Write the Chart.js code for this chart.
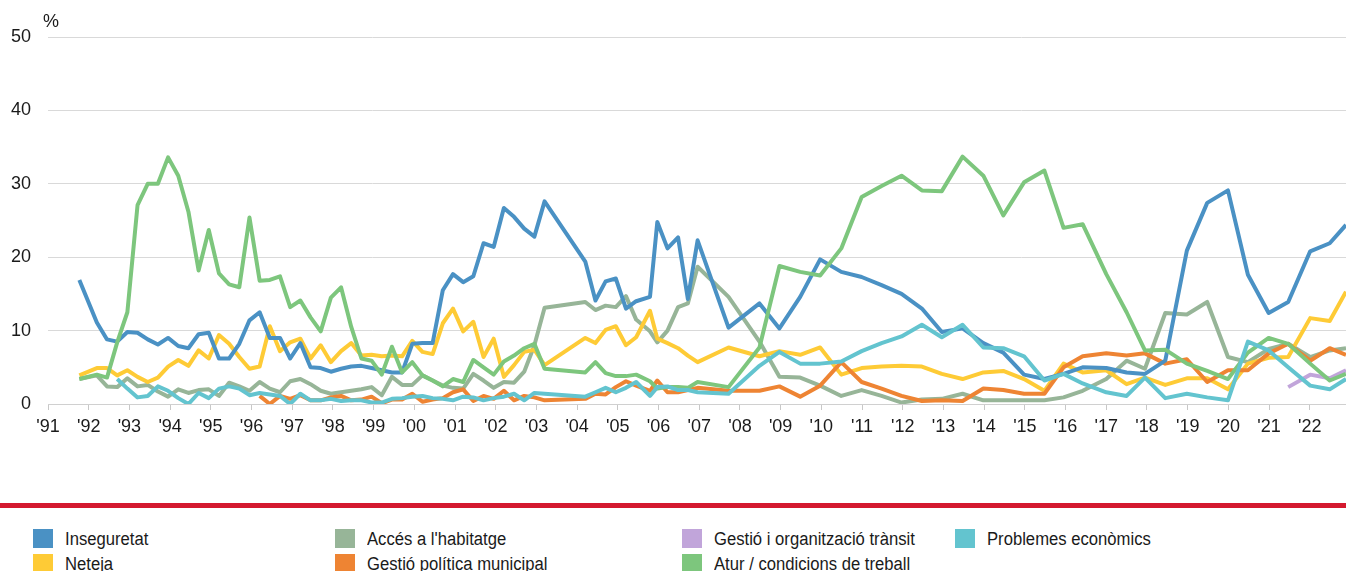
<!DOCTYPE html>
<html>
<head>
<meta charset="utf-8">
<script src="https://cdn.jsdelivr.net/npm/chart.js@4.4.1/dist/chart.umd.min.js"></script>
<style>
  html, body { margin: 0; padding: 0; background: #fff; width: 1346px; height: 571px; overflow: hidden; }
  #wrap { position: relative; width: 1346px; height: 571px; }
  #chart { position: absolute; left: 0; top: 0; }
  #redbar { position: absolute; left: 0; top: 503px; width: 1346px; height: 5px; background: #d4192f; }
  .lg-item { position: absolute; height: 20px; white-space: nowrap; }
  .lg-box { position: absolute; left: 0; top: 0; width: 20px; height: 19px; }
  .lg-text { position: absolute; left: 32px; top: -1px; font-family: "Liberation Sans", Arial, sans-serif; font-size: 18px; color: #1a1a1a; transform: scaleX(0.925); transform-origin: left center; line-height: 22px; }
</style>
</head>
<body>
<div id="wrap">
  <canvas id="chart" width="1346" height="460"></canvas>
  <div id="redbar"></div>
  <div id="legend"></div>
</div>
<script>
// Survey dates (decimal years)
const surveyDates = [
  1991.77, 1992.20, 1992.45, 1992.70, 1992.95, 1993.20, 1993.45, 1993.70, 1993.95,
  1994.20, 1994.45, 1994.70, 1994.95, 1995.20, 1995.45, 1995.70, 1995.95,
  1996.20, 1996.45, 1996.70, 1996.95, 1997.20, 1997.45, 1997.70, 1997.95,
  1998.20, 1998.45, 1998.70, 1998.95, 1999.20, 1999.45, 1999.70, 1999.95,
  2000.20, 2000.45, 2000.70, 2000.95, 2001.20, 2001.45, 2001.70, 2001.95,
  2002.20, 2002.45, 2002.70, 2002.95, 2003.20,
  2004.20, 2004.45, 2004.70, 2004.95, 2005.20, 2005.45, 2005.79, 2005.97,
  2006.22, 2006.48, 2006.72, 2006.96, 2007.72,
  2008.48, 2008.97, 2009.48, 2009.97, 2010.49, 2010.99, 2011.48, 2011.97,
  2012.47, 2012.96, 2013.47, 2013.98, 2014.47, 2014.98, 2015.48, 2015.95,
  2016.42, 2017.00, 2017.50, 2017.95, 2018.45, 2018.98, 2019.48, 2019.99,
  2020.48, 2020.99, 2021.47, 2022.01, 2022.49, 2022.89
];

const seriesNames = [
  "Inseguretat", "Neteja", "Accés a l'habitatge", "Gestió política municipal",
  "Gestió i organització trànsit", "Atur / condicions de treball", "Problemes econòmics"
];

const inseguretat = [
  16.9, 11.1, 8.8, 8.5, 9.8, 9.7, 8.8, 8.1, 9.0,
  7.9, 7.6, 9.5, 9.7, 6.2, 6.2, 8.2, 11.4,
  12.5, 9.0, 9.0, 6.2, 8.3, 5.0, 4.9, 4.4,
  4.8, 5.1, 5.2, 4.9, 4.6, 4.3, 4.3, 8.2,
  8.3, 8.3, 15.5, 17.7, 16.6, 17.4, 21.9, 21.4,
  26.7, 25.5, 23.9, 22.8, 27.6,
  19.4, 14.1, 16.7, 17.1, 13.0, 14.0, 14.6, 24.8,
  21.2, 22.7, 14.3, 22.3, 10.4,
  13.7, 10.3, 14.6, 19.7, 18.0, 17.3, 16.2, 15.0,
  13.0, 9.8, 10.3, 8.3, 7.0, 4.0, 3.4, 4.1,
  5.0, 4.9, 4.3, 4.1, 5.9, 20.9, 27.4, 29.1,
  17.6, 12.4, 13.9, 20.8, 21.9, 24.4
];

const neteja = [
  3.9, 4.9, 4.9, 3.9, 4.6, 3.7, 3.0, 3.6, 5.1,
  6.0, 5.2, 7.3, 6.2, 9.4, 8.2, 6.4, 4.8,
  5.1, 10.6, 7.2, 8.4, 8.9, 6.2, 8.0, 5.7,
  7.2, 8.3, 6.6, 6.7, 6.5, 6.6, 6.5, 8.6,
  7.1, 6.8, 11.0, 13.0, 9.9, 11.2, 6.4, 8.9,
  3.7, 5.3, 7.1, 7.4, 5.3,
  9.0, 8.3, 10.1, 10.6, 8.0, 9.1, 12.7, 8.9,
  8.3, 7.6, 6.6, 5.7, 7.7,
  6.5, 7.2, 6.7, 7.7, 4.0, 4.9, 5.1, 5.2,
  5.1, 4.1, 3.4, 4.3, 4.5, 3.4, 1.8, 5.5,
  4.3, 4.6, 2.7, 3.6, 2.6, 3.5, 3.5, 2.0,
  5.5, 6.3, 6.4, 11.7, 11.3, 15.3
];

const accesHabitatge = [
  3.4, 3.9, 2.4, 2.3, 3.5, 2.4, 2.6, 1.7, 1.0,
  2.0, 1.5, 1.9, 2.0, 1.1, 2.9, 2.4, 1.8,
  3.0, 2.1, 1.6, 3.1, 3.4, 2.7, 1.8, 1.4,
  1.6, 1.8, 2.0, 2.3, 1.2, 3.7, 2.6, 2.6,
  3.9, 3.2, 2.5, 2.2, 2.1, 4.1, 3.2, 2.2,
  3.0, 2.9, 4.4, 8.0, 13.1,
  13.9, 12.8, 13.4, 13.2, 14.7, 11.5, 9.9, 8.4,
  10.0, 13.2, 13.7, 18.7, 14.6,
  8.5, 3.7, 3.6, 2.5, 1.1, 1.9, 1.1, 0.2,
  0.6, 0.7, 1.4, 0.5, 0.5, 0.5, 0.5, 0.9,
  1.8, 3.4, 5.9, 4.8, 12.4, 12.2, 13.9, 6.4,
  5.7, 7.5, 8.2, 6.4, 7.3, 7.6
];

const gestioPolitica = [
  null, null, null, null, null, null, null, null, null,
  null, null, null, null, null, null, null, null,
  1.1, 0.0, 1.1, 0.7, 1.2, 0.5, 0.5, 0.9,
  1.1, 0.5, 0.6, 1.0, 0.1, 0.6, 0.6, 1.4,
  0.3, 0.6, 0.8, 1.6, 2.0, 0.4, 1.1, 0.7,
  1.8, 0.5, 1.1, 0.9, 0.5,
  0.7, 1.4, 1.3, 2.3, 3.1, 2.5, 1.8, 3.2,
  1.6, 1.6, 1.9, 2.2, 1.8,
  1.8, 2.4, 1.0, 2.5, 5.7, 3.0, 2.1, 1.1,
  0.4, 0.5, 0.4, 2.1, 1.9, 1.4, 1.4, 5.0,
  6.5, 6.9, 6.6, 6.9, 5.5, 6.1, 3.0, 4.6,
  4.6, 6.9, 8.2, 5.9, 7.6, 6.7
];

const gestioTransit = [
  null, null, null, null, null, null, null, null, null,
  null, null, null, null, null, null, null, null,
  null, null, null, null, null, null, null, null,
  null, null, null, null, null, null, null, null,
  null, null, null, null, null, null, null, null,
  null, null, null, null, null,
  null, null, null, null, null, null, null, null,
  null, null, null, null, null,
  null, null, null, null, null, null, null, null,
  null, null, null, null, null, null, null, null,
  null, null, null, null, null, null, null, null,
  null, null, 2.3, 4.0, 3.5, 4.6
];

const aturTreball = [
  3.4, 4.0, 3.6, 8.4, 12.5, 27.1, 30.0, 30.0, 33.6,
  31.1, 26.2, 18.2, 23.7, 17.8, 16.3, 15.9, 25.4,
  16.8, 16.9, 17.4, 13.2, 14.1, 11.8, 9.9, 14.5,
  15.9, 10.5, 6.2, 5.9, 4.0, 7.8, 4.3, 5.7,
  3.9, 3.2, 2.4, 3.4, 3.0, 6.0, 5.0, 4.0,
  5.8, 6.6, 7.6, 8.2, 4.8,
  4.3, 5.7, 4.2, 3.8, 3.8, 4.0, 3.1, 2.1,
  2.3, 2.3, 2.2, 3.0, 2.3,
  7.7, 18.8, 18.0, 17.5, 21.2, 28.2, 29.7, 31.1,
  29.1, 29.0, 33.7, 31.1, 25.7, 30.2, 31.8, 24.0,
  24.5, 17.7, 12.5, 7.3, 7.4, 5.5, 4.5, 3.4,
  7.0, 9.0, 8.2, 5.5, 3.2, 4.1
];

const problemesEconomics = [
  null, null, null, 3.4, 2.1, 0.9, 1.1, 2.4, 1.8,
  0.8, 0.0, 1.5, 0.8, 2.1, 2.4, 2.1, 1.2,
  1.5, 1.3, 1.1, 0.0, 1.4, 0.5, 0.5, 0.7,
  0.4, 0.5, 0.5, 0.2, 0.2, 0.7, 0.8, 1.0,
  1.1, 0.8, 0.7, 0.5, 1.0, 0.9, 0.5, 0.8,
  1.0, 1.4, 0.5, 1.5, 1.4,
  1.0, 1.6, 2.2, 1.6, 2.2, 3.0, 1.1, 2.3,
  2.4, 1.9, 1.9, 1.6, 1.4,
  5.2, 7.1, 5.5, 5.5, 5.8, 7.2, 8.3, 9.2,
  10.8, 9.1, 10.8, 7.7, 7.6, 6.5, 3.2, 4.1,
  2.8, 1.6, 1.1, 3.6, 0.8, 1.4, 0.9, 0.5,
  8.5, 7.3, 5.0, 2.5, 2.0, 3.4
];

const yTickValues = [0, 10, 20, 30, 40, 50];
const yUnitLabel = "%";

const seriesValues = [inseguretat, neteja, accesHabitatge, gestioPolitica, gestioTransit, aturTreball, problemesEconomics];
const seriesColors = ["#4a91c4", "#fecb36", "#97b598", "#ee8433", "#c1a5da", "#7dc67d", "#63c4cf"];
const drawOrder = [3, 6, 7, 5, 4, 2, 1];

const FONT = '"Liberation Sans", Arial, sans-serif';

const datasets = seriesNames.map((name, i) => ({
  label: name,
  data: surveyDates.map((d, k) => ({ x: d, y: seriesValues[i][k] })),
  borderColor: seriesColors[i],
  backgroundColor: seriesColors[i],
  borderWidth: 4,
  pointRadius: 0,
  pointHoverRadius: 0,
  tension: 0,
  fill: false,
  spanGaps: false,
  borderJoinStyle: 'round',
  order: drawOrder[i]
}));

const unitPlugin = {
  id: 'unitLabel',
  afterDraw(chart) {
    const ctx = chart.ctx;
    ctx.save();
    ctx.font = '18px ' + FONT;
    ctx.fillStyle = '#1a1a1a';
    ctx.textAlign = 'left';
    ctx.textBaseline = 'middle';
    ctx.fillText(yUnitLabel, chart.chartArea.left - 5, chart.chartArea.top - 15);
    ctx.restore();
  }
};

const chart = new Chart(document.getElementById('chart'), {
  type: 'line',
  data: { datasets },
  options: {
    responsive: false,
    animation: false,
    devicePixelRatio: 1,
    layout: { padding: { top: 37, right: 0, bottom: 16, left: 0 } },
    plugins: { legend: { display: false }, tooltip: { enabled: false } },
    scales: {
      x: {
        type: 'linear',
        min: 1991,
        max: 2022.89,
        ticks: {
          stepSize: 1,
          includeBounds: false,
          autoSkip: false,
          maxRotation: 0,
          padding: 6,
          color: '#1a1a1a',
          font: { family: FONT, size: 18 },
          callback: (v) => Number.isInteger(v) ? "'" + String(v).slice(2) : ''
        },
        grid: { drawOnChartArea: false, drawTicks: true, tickLength: 6, color: '#c8c8c8' },
        border: { display: true, color: '#d0d0d0', width: 1 },
        afterFit: (s) => { s.height = 40; }
      },
      y: {
        min: 0,
        max: 50,
        afterBuildTicks: (s) => { s.ticks = yTickValues.map(v => ({ value: v })); },
        ticks: {
          padding: 17,
          color: '#1a1a1a',
          font: { family: FONT, size: 18 }
        },
        grid: { color: '#d9d9d9', drawTicks: false, lineWidth: 1 },
        border: { display: false },
        afterFit: (s) => { s.width = 48; }
      }
    }
  },
  plugins: [unitPlugin]
});

// Legend built from the chart datasets
const legendColumnX = [33, 335, 682, 955];
const legendRowY = [529, 554];
const legendEl = document.getElementById('legend');
chart.data.datasets.forEach((ds, i) => {
  const col = Math.floor(i / 2), row = i % 2;
  const item = document.createElement('div');
  item.className = 'lg-item';
  item.style.left = legendColumnX[col] + 'px';
  item.style.top = legendRowY[row] + 'px';
  const box = document.createElement('div');
  box.className = 'lg-box';
  box.style.background = ds.borderColor;
  const txt = document.createElement('div');
  txt.className = 'lg-text';
  txt.textContent = ds.label;
  item.appendChild(box);
  item.appendChild(txt);
  legendEl.appendChild(item);
});
</script>
</body>
</html>
